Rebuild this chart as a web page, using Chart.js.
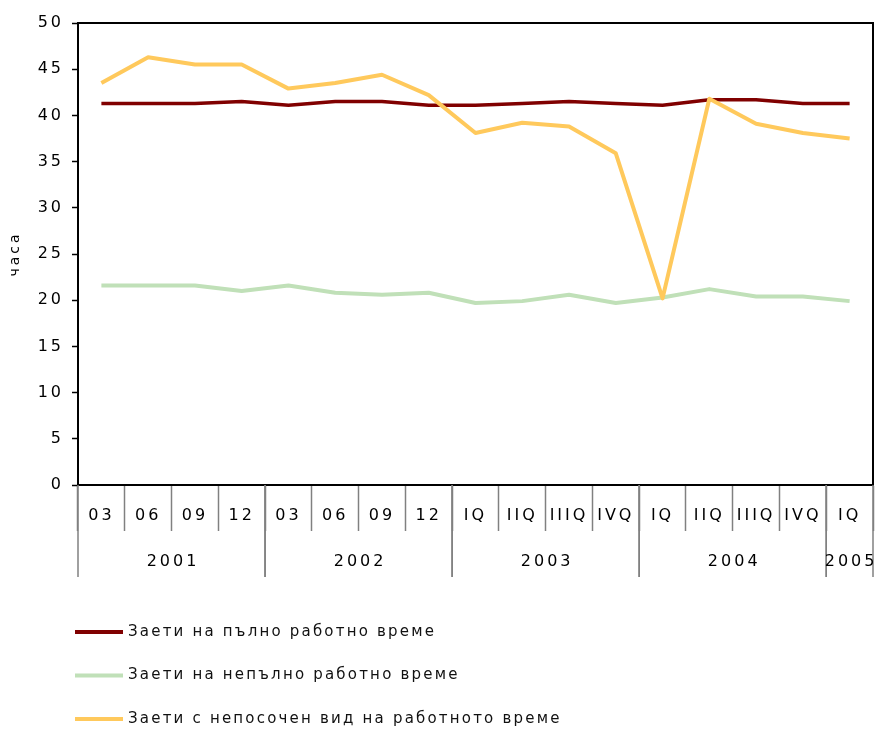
<!DOCTYPE html>
<html>
<head>
<meta charset="utf-8">
<script src="https://cdn.jsdelivr.net/npm/chart.js@4.4.0/dist/chart.umd.min.js"></script>
<style>
  html, body { margin: 0; padding: 0; background: #fff; }
  #wrap { width: 877px; height: 731px; }
</style>
</head>
<body>
<div id="wrap"><canvas id="hoursChart" width="877" height="731"></canvas></div>
<script>
// period labels (months for 2001-2002, quarters afterwards)
const periodLabels = ['03', '06', '09', '12', '03', '06', '09', '12',
    'IQ', 'IIQ', 'IIIQ', 'IVQ', 'IQ', 'IIQ', 'IIIQ', 'IVQ', 'IQ'];
const yearLabels = ['2001', '2002', '2003', '2004', '2005'];
const periodsPerYear = [4, 4, 4, 4, 1];

// average weekly hours
const fullTime = [41.3, 41.3, 41.3, 41.5, 41.1, 41.5, 41.5, 41.1, 41.1, 41.3, 41.5, 41.3, 41.1, 41.7, 41.7, 41.3, 41.3];
const partTime = [21.6, 21.6, 21.6, 21.0, 21.6, 20.8, 20.6, 20.8, 19.7, 19.9, 20.6, 19.7, 20.3, 21.2, 20.4, 20.4, 19.9];
const unspecified = [43.5, 46.3, 45.5, 45.5, 42.9, 43.5, 44.4, 42.2, 38.1, 39.2, 38.8, 35.9, 20.2, 41.8, 39.1, 38.1, 37.5];

const seriesNames = ['Заети на пълно работно време', 'Заети на непълно работно време',
    'Заети с непосочен вид на работното време'];
const seriesColors = ['#800000', '#c0e0b8', '#ffc95c'];

const FONT = 'DejaVu Sans';
const SPACING = '3px';

// canvas letter spacing gets reset whenever the canvas is resized
const spacingPlugin = {
    id: 'spacing',
    beforeUpdate(chart) { chart.ctx.letterSpacing = SPACING; },
    beforeDraw(chart) { chart.ctx.letterSpacing = SPACING; }
};

// frame around the plot area
const framePlugin = {
    id: 'frame',
    beforeDatasetsDraw(chart) {
        const { ctx, chartArea: a } = chart;
        ctx.save();
        ctx.strokeStyle = '#000';
        ctx.lineWidth = 2;
        ctx.strokeRect(a.left, a.top, a.right - a.left, a.bottom - a.top);
        ctx.restore();
    }
};

// second row of the x axis: years with long separators
const yearAxisPlugin = {
    id: 'yearAxis',
    afterDraw(chart) {
        const { ctx, chartArea: a } = chart;
        const x = chart.scales.x;
        ctx.save();
        ctx.strokeStyle = '#808080';
        ctx.lineWidth = 1.5;
        ctx.fillStyle = '#000';
        ctx.font = '16px ' + FONT;
        ctx.letterSpacing = SPACING;
        ctx.textAlign = 'center';
        ctx.textBaseline = 'middle';
        let start = 0;
        yearLabels.forEach(function (year, i) {
            const end = start + periodsPerYear[i];
            const x0 = x.getPixelForValue(start - 0.5);
            const x1 = x.getPixelForValue(end - 0.5);
            [x0, x1].forEach(function (px) {
                ctx.beginPath();
                ctx.moveTo(px, a.bottom);
                ctx.lineTo(px, a.bottom + 92);
                ctx.stroke();
            });
            ctx.fillText(year, (x0 + x1) / 2 + 1.5, a.bottom + 77);
            start = end;
        });
        ctx.restore();
    }
};

// legend: one series per row under the chart
const rowLegendPlugin = {
    id: 'rowLegend',
    afterDraw(chart) {
        const { ctx, chartArea: a } = chart;
        ctx.save();
        ctx.font = '15px ' + FONT;
        ctx.letterSpacing = '2.2px';
        ctx.textAlign = 'left';
        ctx.textBaseline = 'middle';
        chart.data.datasets.forEach(function (ds, i) {
            const y = a.bottom + 147 + i * 43.5;
            ctx.strokeStyle = ds.borderColor;
            ctx.lineWidth = 4;
            ctx.beginPath();
            ctx.moveTo(a.left - 3, y);
            ctx.lineTo(a.left + 45, y);
            ctx.stroke();
            ctx.fillStyle = '#111';
            ctx.fillText(ds.label, a.left + 50, y);
        });
        ctx.restore();
    }
};

const ctx = document.getElementById('hoursChart').getContext('2d');
const hoursChart = new Chart(ctx, {
    type: 'line',
    data: {
        labels: periodLabels,
        datasets: [
            { label: seriesNames[0], data: fullTime, borderColor: seriesColors[0], borderWidth: 3.5, order: 3 },
            { label: seriesNames[1], data: partTime, borderColor: seriesColors[1], borderWidth: 4, order: 2 },
            { label: seriesNames[2], data: unspecified, borderColor: seriesColors[2], borderWidth: 4, order: 1 }
        ]
    },
    options: {
        responsive: false,
        animation: false,
        events: [],
        layout: { padding: { left: 0, top: 23, right: 4, bottom: 146 } },
        elements: {
            point: { radius: 0 },
            line: { tension: 0, borderJoinStyle: 'round' }
        },
        plugins: {
            legend: { display: false },
            tooltip: { enabled: false }
        },
        scales: {
            x: {
                type: 'category',
                offset: true,
                grid: {
                    offset: true,
                    drawOnChartArea: false,
                    drawTicks: true,
                    tickLength: 46,
                    tickColor: '#808080',
                    tickWidth: 1.5
                },
                border: { color: '#000', width: 2 },
                ticks: {
                    autoSkip: false,
                    maxRotation: 0,
                    padding: -25,
                    color: '#000',
                    font: { family: FONT, size: 16 }
                },
                afterFit(scale) { scale.height = 100; }
            },
            y: {
                min: 0,
                max: 50,
                ticks: {
                    stepSize: 5,
                    padding: 8,
                    color: '#000',
                    font: { family: FONT, size: 16 }
                },
                grid: {
                    drawOnChartArea: false,
                    drawTicks: true,
                    tickLength: 6,
                    tickColor: '#000',
                    tickWidth: 1.5
                },
                border: { color: '#000', width: 2 },
                title: {
                    display: true,
                    text: 'часа',
                    color: '#000',
                    font: { family: FONT, size: 14 },
                    padding: { top: 7, bottom: 0 }
                },
                afterFit(scale) { scale.width = 78; }
            }
        }
    },
    plugins: [spacingPlugin, framePlugin, yearAxisPlugin, rowLegendPlugin]
});
</script>
</body>
</html>
